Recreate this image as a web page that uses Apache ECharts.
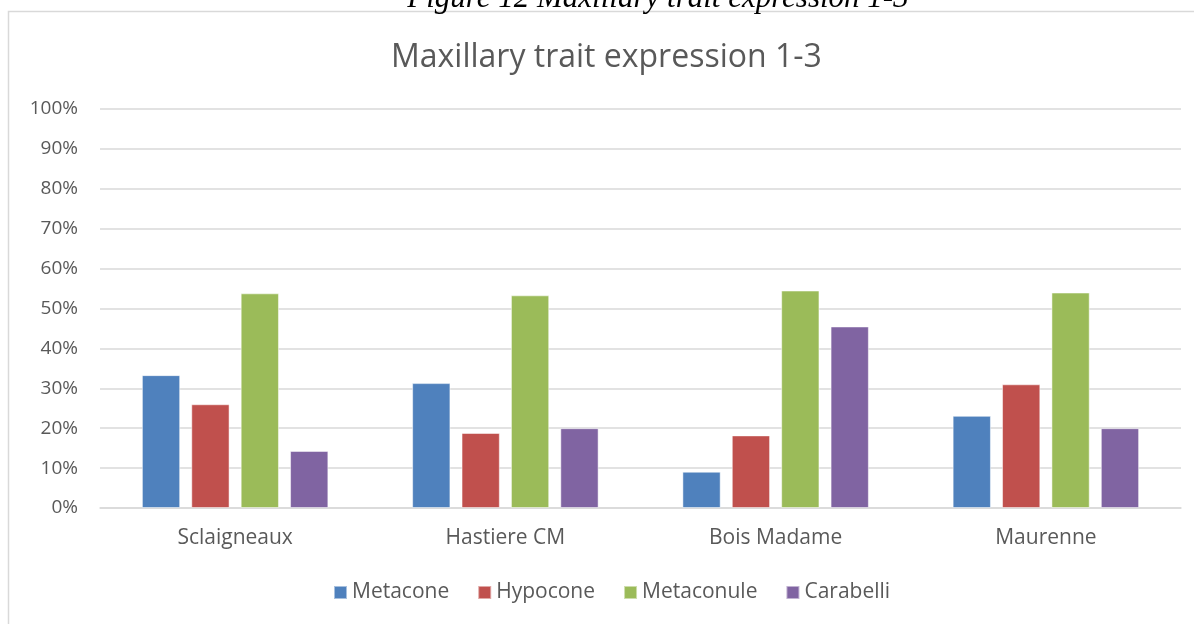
<!DOCTYPE html>
<html>
<head>
<meta charset="utf-8">
<script src="https://cdn.jsdelivr.net/npm/echarts@6/dist/echarts.min.js"></script>
<style>
  html, body { margin: 0; padding: 0; background: #fff; }
  #main { width: 1194px; height: 624px; }
</style>
</head>
<body>
<div id="main"></div>
<script>
// data (percent)
const sites = ["Sclaigneaux", "Hastiere CM", "Bois Madame", "Maurenne"];
const metacone = [33.3, 31.3, 9.1, 23.1];
const hypocone = [26.0, 18.8, 18.2, 31.0];
const metaconule = [53.8, 53.3, 54.5, 54.0];
const carabelli = [14.3, 20.0, 45.5, 20.0];

const names = ["Metacone", "Hypocone", "Metaconule", "Carabelli"];
const colors = ["#4f81bd", "#c0504d", "#9bbb59", "#8064a2"];
const seriesData = [metacone, hypocone, metaconule, carabelli];

const chart = echarts.init(document.getElementById('main'));

chart.setOption({
    animation: false,
    color: colors,
    textStyle: { fontFamily: 'Open Sans' },
    title: {
        text: 'Maxillary trait expression 1-3',
        left: 386,
        top: 37,
        textStyle: { fontFamily: 'Open Sans', fontSize: 32, fontWeight: 'normal', color: '#595959' }
    },
    graphic: [
        {
            type: 'rect',
            shape: { x: 8.5, y: 11.5, width: 1300, height: 800 },
            style: { fill: 'none', stroke: '#d9d9d9', lineWidth: 1.5 },
            silent: true
        },
        {
            type: 'text',
            style: {
                text: 'Figure 12 Maxillary trait expression 1-3',
                x: 658, y: 14,
                textAlign: 'center',
                textVerticalAlign: 'bottom',
                font: 'italic 31px "Liberation Serif"',
                fill: '#000'
            },
            silent: true
        }
    ],
    legend: {
        bottom: 16,
        left: 328,
        itemWidth: 13,
        itemHeight: 13,
        itemGap: 28,
        icon: 'rect',
        textStyle: { fontSize: 21, color: '#595959', fontFamily: 'Open Sans' },
        data: names
    },
    grid: { left: 100, right: 13, top: 109, bottom: 116 },
    xAxis: {
        type: 'category',
        data: sites,
        axisLine: { lineStyle: { color: '#d9d9d9', width: 1.5 } },
        axisTick: { show: false },
        axisLabel: { fontSize: 21, color: '#595959', margin: 20 }
    },
    yAxis: {
        type: 'value',
        min: 0, max: 100, interval: 10,
        axisLine: { show: false },
        axisTick: { show: false },
        splitLine: { lineStyle: { color: '#d9d9d9', width: 1.5 } },
        axisLabel: { fontSize: 19, color: '#595959', margin: 22, formatter: '{value}%' }
    },
    series: seriesData.map((d, i) => ({
        name: names[i],
        type: 'bar',
        data: d,
        barGap: '29%',
        barCategoryGap: '31%',
        itemStyle: { color: colors[i], borderColor: 'rgba(255,255,255,0.5)', borderWidth: 1 }
    }))
});
</script>
</body>
</html>
